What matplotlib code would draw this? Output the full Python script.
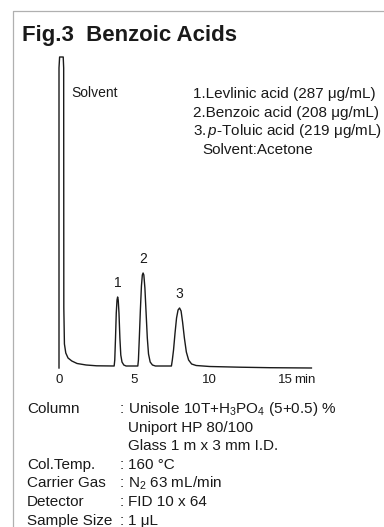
#!/usr/bin/env python3
import matplotlib
matplotlib.use("Agg")
import matplotlib.pyplot as plt
from matplotlib.lines import Line2D

plt.rcParams['font.family'] = ['Liberation Sans', 'DejaVu Sans']
plt.rcParams['mathtext.fontset'] = 'custom'
plt.rcParams['mathtext.rm'] = 'Liberation Sans'
plt.rcParams['mathtext.it'] = 'Liberation Sans:italic'
plt.rcParams['mathtext.default'] = 'regular'

W, H = 384, 527
INK = '#1a1a1a'

# chromatogram trace (time in min, signal in arbitrary units)
time = [0.00, 0.00, 0.04, 0.28, 0.31, 0.32, 0.36, 0.45, 0.60, 0.85, 1.20, 1.80, 2.50,
        3.66, 3.70, 3.75, 3.80, 3.85, 3.89, 3.93, 3.98, 4.04, 4.10, 4.18, 4.30, 4.45,
        5.23, 5.27, 5.33, 5.40, 5.47, 5.53, 5.58, 5.63, 5.70, 5.78, 5.86, 5.94, 6.05, 6.20, 6.40,
        7.46, 7.52, 7.60, 7.70, 7.80, 7.90, 8.00, 8.10, 8.20, 8.32, 8.45, 8.60, 8.80, 9.10,
        10.0, 12.0, 14.0, 16.75]
signal = [0, 300, 311, 311, 300, 60, 24, 15, 10, 7, 4.5, 3, 2.2,
          2, 8, 30, 55, 68, 71, 68, 55, 30, 13, 6, 3, 2,
          2, 8, 30, 58, 82, 93, 95, 93, 80, 55, 30, 14, 6, 3, 2,
          2, 8, 18, 35, 50, 58, 60, 57, 46, 30, 16, 8, 4, 2.5,
          1.5, 0.8, 0.3, 0]

peak_ids = ['1', '2', '3']
peak_times = [3.89, 5.58, 8.00]
peak_heights = [71, 95, 60]

ticks = [0, 5, 10, 15]
tick_labels = ['0', '5', '10', '15']

title = 'Fig.3  Benzoic Acids'
compounds = ['1.Levlinic acid (287 μg/mL)',
             '2.Benzoic acid (208 μg/mL)',
             r'3.$\,\mathit{p}$-Toluic acid (219 μg/mL)']
solvent_note = 'Solvent:Acetone'

cond_labels = ['Column', '', '', 'Col.Temp.', 'Carrier Gas', 'Detector', 'Sample Size']
cond_values = ['Unisole 10T+H$_3$PO$_4$ (5+0.5) %', 'Uniport HP 80/100',
               'Glass 1 m x 3 mm I.D.', '160 °C', 'N$_2$ 63 mL/min',
               'FID 10 x 64', '1 μL']


def fx(px):
    return px / W


def fy(py):
    return 1 - py / H


fig = plt.figure(figsize=(W / 100, H / 100), dpi=100)

# axes placed so that t=0 sits at x=59px, baseline at y=368px
xmin, xmax = -0.5, 17.5
ymin, ymax = -5, 320
pxmin = 59 + xmin * 15.07
pxmax = 59 + xmax * 15.07
ax = fig.add_axes([fx(pxmin), fy(368 - ymin), (pxmax - pxmin) / W, (ymax - ymin) / H])
ax.set_xlim(xmin, xmax)
ax.set_ylim(ymin, ymax)
ax.axis('off')

ax.plot(time, signal, color=INK, lw=1.0, solid_joinstyle='round')

for pid, t, h in zip(peak_ids, peak_times, peak_heights):
    ax.annotate(pid, xy=(t, h), xytext=(0, 14), textcoords='offset pixels',
                ha='center', va='center', fontsize=10, color=INK)

for t, lab in zip(ticks, tick_labels):
    ax.annotate(lab, xy=(t, 0), xytext=(0, -12), textcoords='offset pixels',
                ha='center', va='center', fontsize=9.5, color=INK)
ax.annotate('min', xy=(ticks[-1], 0), xytext=(9, -12), textcoords='offset pixels',
            ha='left', va='center', fontsize=9.5, color=INK)

ax.annotate('Solvent', xy=(0, 0), xytext=(71 - 59, 368 - 93), textcoords='offset pixels',
            ha='left', va='center', fontsize=10, color=INK)

# frame
fig.add_artist(Line2D([fx(13), fx(13), fx(384)], [fy(527), fy(11), fy(11)],
                      color='#b0b0b0', lw=0.9))

fig.text(fx(22), fy(35), title, fontsize=16, fontweight='bold', ha='left', va='center', color=INK)

for i, line in enumerate(compounds):
    fig.text(fx(193), fy(94 + i * 18.7), line, fontsize=11, ha='left', va='center', color=INK)
fig.text(fx(202), fy(94 + 3 * 18.7), solvent_note, fontsize=11, ha='left', va='center', color=INK)

for i, (lab, val) in enumerate(zip(cond_labels, cond_values)):
    y = fy(409 + i * 18.6)
    if lab:
        fig.text(fx(27), y, lab, fontsize=11, ha='left', va='center', color=INK)
        fig.text(fx(122), y, ':', fontsize=11, ha='center', va='center', color=INK)
    fig.text(fx(128), y, val, fontsize=11, ha='left', va='center', color=INK)

fig.savefig('out.png', dpi=100, facecolor='white')
